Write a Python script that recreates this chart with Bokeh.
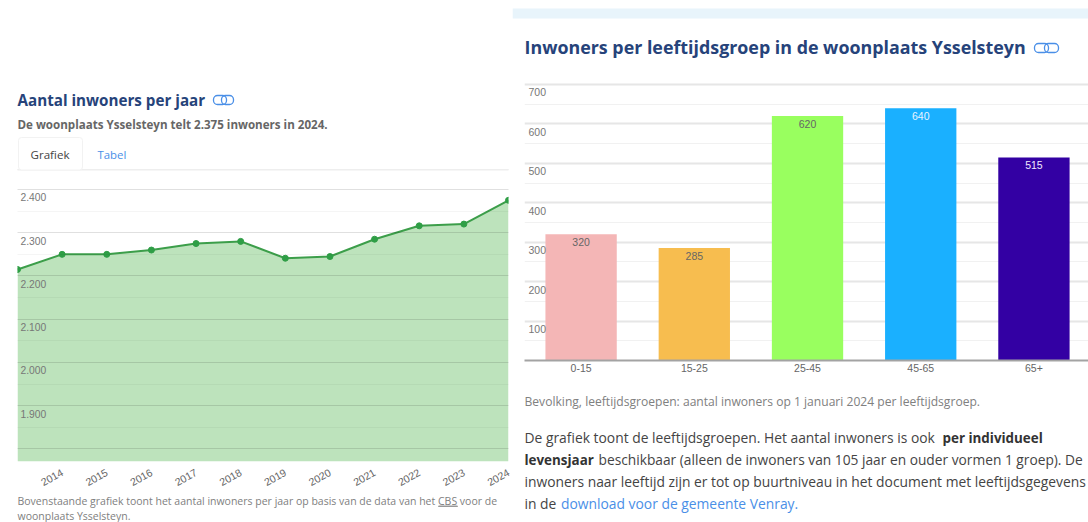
from bokeh.embed import file_html
from bokeh.resources import INLINE
from bokeh.plotting import figure
from bokeh.layouts import row, column
from bokeh.models import Range1d, FixedTicker, Label, BoxAnnotation, ColumnDataSource
from bokeh.core.properties import value

years = [2013, 2014, 2015, 2016, 2017, 2018, 2019, 2020, 2021, 2022, 2023, 2024]
inhabitants = [2215, 2250, 2250, 2260, 2275, 2280, 2241, 2245, 2285, 2316, 2320, 2375]
year_y_ticks = [1800, 1900, 2000, 2100, 2200, 2300, 2400]
year_y_labels = ["", "1.900", "2.000", "2.100", "2.200", "2.300", "2.400"]
year_y_minor = [1850, 1950, 2050, 2150, 2250, 2350]

age_groups = ["0-15", "15-25", "25-45", "45-65", "65+"]
age_values = [320, 285, 620, 640, 515]
age_colors = ["#f4b6b6", "#f7bd4f", "#99ff5f", "#1ab0ff", "#3300a3"]
age_label_colors = ["#666666", "#666666", "#666666", "#e8f4ff", "#f0e8ff"]
age_y_ticks = [100, 200, 300, 400, 500, 600, 700]
age_y_minor = [50, 150, 250, 350, 450, 550, 650]

FONT = "Open Sans"
NAVY = "#26437a"
BLUE = "#4a8fe7"


def panel(x0, y0, w, h):
    """A blank figure whose frame fills it; its ranges are the page's pixels."""
    p = figure(width=w, height=h, output_backend="svg", toolbar_location=None,
               x_range=Range1d(x0, x0 + w), y_range=Range1d(y0 + h, y0), frame_align=False,
               x_axis_location=None, y_axis_location=None, min_border=0,
               outline_line_color=None)
    p.grid.visible = False
    return p


def put(p, x, y, text, size, color, style="normal", font=FONT):
    p.add_layout(Label(x=x, y=y, text=text, text_font=font, text_font_size=f"{size}px",
                       text_color=color, text_font_style=style, text_baseline="middle",
                       text_align="left"))


def box(p, x0, x1, y0, y1, fill=None, line=None, radius=0, width=1.3):
    p.add_layout(BoxAnnotation(left=x0, right=x1, top=y0, bottom=y1, editable=False,
                               fill_color=fill, fill_alpha=1 if fill else 0,
                               line_color=line, line_alpha=1 if line else 0, line_width=width,
                               border_radius=radius))


# ---------- left column ----------
lhead = panel(0, 0, 512, 185)
put(lhead, 17, 99, "Aantal inwoners per jaar", 15.2, NAVY, "bold")
box(lhead, 213, 226, 95, 104, line=BLUE, radius=4)
box(lhead, 221, 233, 95, 104, line=BLUE, radius=4)
put(lhead, 17, 124, "De woonplaats Ysselsteyn telt 2.375 inwoners in 2024.", 11.6, "#666666", "bold")
box(lhead, 17, 508, 169, 169.5, line="#eeeeee", width=1)
box(lhead, 18, 82, 137, 169.5, fill="#ffffff", line="#f2f2f2", radius=3, width=1)
put(lhead, 30, 154, "Grafiek", 11.6, "#444444")
put(lhead, 97, 154, "Tabel", 11.4, BLUE)

left = figure(width=512, height=308, output_backend="svg", toolbar_location=None,
              x_range=Range1d(2013, 2024), y_range=Range1d(1771, 2404.6), frame_align=False,
              min_border_left=17, min_border_right=4, min_border_top=2, min_border_bottom=32,
              outline_line_color=None)
src = ColumnDataSource(dict(x=years, y=inhabitants, base=[1771] * len(years)))
left.varea(x="x", y1="base", y2="y", source=src, fill_color="#bde3bc")
left.line(x="x", y="y", source=src, line_color="#3c9e4a", line_width=2)
left.scatter(x="x", y="y", source=src, size=6, fill_color="#2f9e46", line_color="#2f9e46")
left.yaxis.visible = False
left.xaxis.ticker = FixedTicker(ticks=years[1:])
left.xaxis.major_label_orientation = 0.5
left.xaxis.major_label_text_font = "Liberation Sans"
left.xaxis.major_label_text_font_size = "10.5px"
left.xaxis.major_label_text_color = "#666666"
left.xaxis.major_label_standoff = 10
left.xaxis.axis_line_color = None
left.xaxis.major_tick_line_color = None
left.xaxis.minor_tick_line_color = None
left.xaxis.major_tick_out = 0
left.xaxis.major_tick_in = 0
left.xgrid.visible = False
left.ygrid.ticker = FixedTicker(ticks=year_y_ticks, minor_ticks=year_y_minor)
left.ygrid.grid_line_color = "#000000"
left.ygrid.grid_line_alpha = 0.12
left.ygrid.minor_grid_line_color = "#000000"
left.ygrid.minor_grid_line_alpha = 0.04
left.ygrid.level = "overlay"
left.text(x=[years[0]] * 7, y=year_y_ticks, text=year_y_labels, x_offset=3, y_offset=8,
          text_font=value("Liberation Sans"), text_font_size="10.3px", text_color="#777777",
          text_baseline="middle", text_align="left", level="overlay")

lfoot = panel(0, 493, 512, 29)
put(lfoot, 17, 500, "Bovenstaande grafiek toont het aantal inwoners per jaar op basis van de data van het CBS voor de", 10.5, "#808080")
box(lfoot, 438, 457, 505.5, 506, line="#999999", width=1)
put(lfoot, 17, 515.5, "woonplaats Ysselsteyn.", 10.5, "#808080")

# ---------- right column ----------
rhead = panel(512, 0, 576, 80)
box(rhead, 512, 1088, 8, 18, fill="#e8f4fb", width=0)
put(rhead, 524, 46, "Inwoners per leeftijdsgroep in de woonplaats Ysselsteyn", 17.85, NAVY, "bold")
box(rhead, 1034, 1048, 43, 52, line=BLUE, radius=4)
box(rhead, 1044, 1058, 43, 52, line=BLUE, radius=4)

right = figure(width=576, height=312, output_backend="svg", toolbar_location=None,
               x_range=Range1d(-0.5, 4.482), y_range=Range1d(0, 705), frame_align=False,
               min_border_left=12, min_border_right=0, min_border_top=2, min_border_bottom=32,
               outline_line_color=None)
positions = list(range(len(age_groups)))
right.vbar(x=positions, top=age_values, width=0.63, fill_color=age_colors, line_color=None)
right.yaxis.visible = False
right.xaxis.ticker = FixedTicker(ticks=positions)
right.xaxis.major_label_overrides = dict(zip(positions, age_groups))
right.xaxis.major_label_text_font = "Liberation Sans"
right.xaxis.major_label_text_font_size = "10.5px"
right.xaxis.major_label_text_color = "#666666"
right.xaxis.major_label_standoff = 3
right.xaxis.axis_line_color = "#a3a3a3"
right.xaxis.axis_line_width = 2
right.xaxis.major_tick_line_color = None
right.xaxis.minor_tick_line_color = None
right.xaxis.major_tick_out = 0
right.xaxis.major_tick_in = 0
right.xgrid.visible = False
right.ygrid.ticker = FixedTicker(ticks=age_y_ticks, minor_ticks=age_y_minor)
right.ygrid.grid_line_color = "#e6e6e6"
right.ygrid.grid_line_width = 2
right.ygrid.minor_grid_line_color = "#f1f1f1"
right.text(x=positions, y=age_values, text=[str(v) for v in age_values], y_offset=8,
           text_font=value("Liberation Sans"), text_font_size="10.5px", text_color=age_label_colors,
           text_baseline="middle", text_align="center")
right.text(x=[-0.5] * 7, y=age_y_ticks, text=[str(v) for v in age_y_ticks], x_offset=4, y_offset=8,
           text_font=value("Liberation Sans"), text_font_size="10.5px", text_color="#777777",
           text_baseline="middle", text_align="left")

rfoot = panel(512, 392, 576, 130)
put(rfoot, 524, 401, "Bevolking, leeftijdsgroepen: aantal inwoners op 1 januari 2024 per leeftijdsgroep.", 12.1, "#808080")
put(rfoot, 524, 437, "De grafiek toont de leeftijdsgroepen. Het aantal inwoners is ook", 13.85, "#444444")
put(rfoot, 942, 437, "per individueel", 13.4, "#333333", "bold")
put(rfoot, 524, 459, "levensjaar", 13.4, "#333333", "bold")
put(rfoot, 598, 459, "beschikbaar (alleen de inwoners van 105 jaar en ouder vormen 1 groep). De", 13.75, "#444444")
put(rfoot, 524, 481, "inwoners naar leeftijd zijn er tot op buurtniveau in het document met leeftijdsgegevens", 13.85, "#444444")
put(rfoot, 524, 503, "in de", 13.85, "#444444")
put(rfoot, 560.5, 503, "download voor de gemeente Venray.", 13.85, BLUE)

page = row(column(lhead, left, lfoot, spacing=0), column(rhead, right, rfoot, spacing=0), spacing=0)
open("out.html", "w").write(file_html(page, INLINE))
